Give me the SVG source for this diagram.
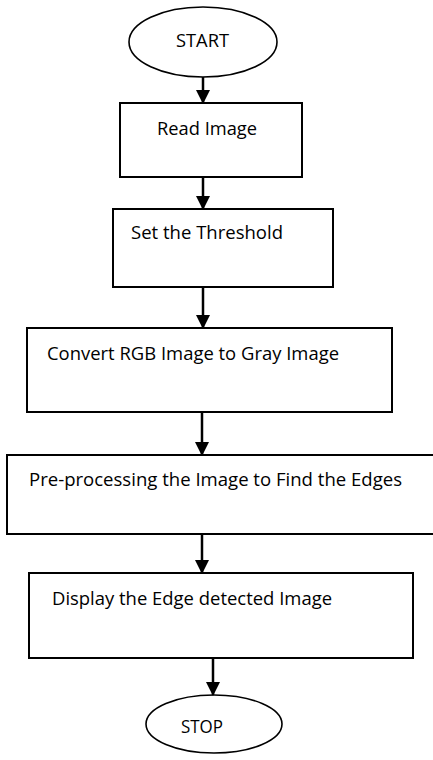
<svg xmlns="http://www.w3.org/2000/svg" width="433" height="760" viewBox="0 0 433 760">
<defs>
<style>
.box{fill:#fff;stroke:#000;stroke-width:2}
.term{fill:#fff;stroke:#000;stroke-width:1.6}
.lbl{font-family:"Open Sans","Liberation Sans",sans-serif;font-size:19px;fill:#000}
.conn{stroke:#000;stroke-width:2.5;fill:none;marker-end:url(#ah)}
</style>
<marker id="ah" markerUnits="userSpaceOnUse" markerWidth="14" markerHeight="14" refX="13" refY="7" orient="auto" viewBox="0 0 14 14">
<path d="M0,0 L14,7 L0,14 z" fill="#000"/>
</marker>
</defs>
<rect width="433" height="760" fill="#fff"/>
<g id="start">
<ellipse class="term" cx="203" cy="42" rx="74" ry="35"/>
<text class="lbl" x="176" y="47" textLength="53" lengthAdjust="spacingAndGlyphs">START</text>
</g>
<g id="read">
<rect class="box" x="120" y="103" width="182" height="74"/>
<text class="lbl" x="157" y="135" textLength="100" lengthAdjust="spacingAndGlyphs">Read Image</text>
</g>
<g id="threshold">
<rect class="box" x="113" y="209" width="220" height="78"/>
<text class="lbl" x="131" y="239" textLength="152" lengthAdjust="spacingAndGlyphs">Set the Threshold</text>
</g>
<g id="convert">
<rect class="box" x="27" y="328" width="365" height="84"/>
<text class="lbl" x="47" y="360" textLength="292" lengthAdjust="spacingAndGlyphs">Convert RGB Image to Gray Image</text>
</g>
<g id="preprocess">
<rect class="box" x="7" y="455" width="432" height="79"/>
<text class="lbl" x="29" y="486" textLength="373" lengthAdjust="spacingAndGlyphs">Pre-processing the Image to Find the Edges</text>
</g>
<g id="display">
<rect class="box" x="29" y="573" width="384" height="85"/>
<text class="lbl" x="52" y="605" textLength="280" lengthAdjust="spacingAndGlyphs">Display the Edge detected Image</text>
</g>
<g id="stop">
<ellipse class="term" cx="214" cy="724" rx="68" ry="29"/>
<text class="lbl" x="181" y="733" textLength="42" lengthAdjust="spacingAndGlyphs">STOP</text>
</g>
<g id="connectors">
<line class="conn" x1="203" y1="77" x2="203" y2="103"/>
<line class="conn" x1="203" y1="177" x2="203" y2="209"/>
<line class="conn" x1="203" y1="287" x2="203" y2="328"/>
<line class="conn" x1="202" y1="412" x2="202" y2="455"/>
<line class="conn" x1="202" y1="534" x2="202" y2="573"/>
<line class="conn" x1="213" y1="658" x2="213" y2="695"/>
</g>
</svg>
